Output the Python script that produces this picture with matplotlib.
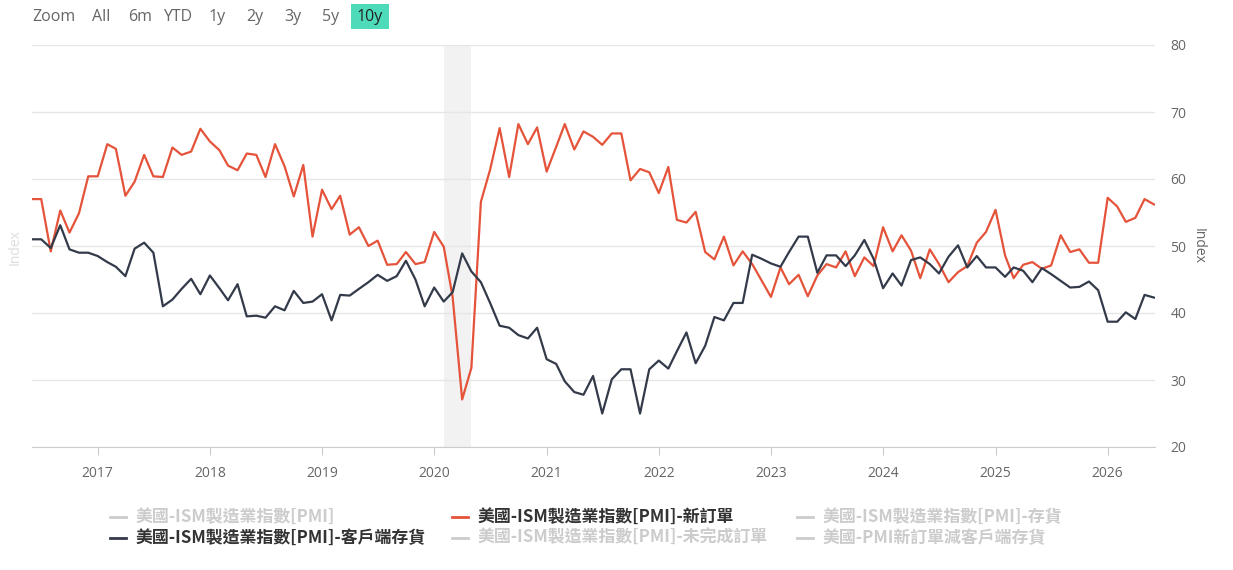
import pandas as pd
import matplotlib.pyplot as plt
import matplotlib.dates as mdates
from matplotlib.lines import Line2D

# ---- data (monthly, Jun 2016 - Jun 2026) ----
start_month = "2016-06-01"

new_orders = [
    57.0, 57.0, 49.2, 55.3, 52.0, 54.9, 60.4,
    60.4, 65.2, 64.5, 57.5, 59.6, 63.6, 60.4, 60.3, 64.7, 63.6, 64.1, 67.5,
    65.6, 64.3, 62.0, 61.3, 63.8, 63.6, 60.3, 65.2, 61.9, 57.4, 62.1, 51.4,
    58.4, 55.5, 57.5, 51.7, 52.8, 50.0, 50.8, 47.2, 47.3, 49.1, 47.3, 47.6,
    52.1, 49.9, 42.4, 27.1, 31.8, 56.6, 61.4, 67.6, 60.3, 68.2, 65.2, 67.7,
    61.1, 64.8, 68.2, 64.4, 67.1, 66.3, 65.1, 66.8, 66.8, 59.8, 61.5, 61.0,
    57.9, 61.8, 53.9, 53.5, 55.1, 49.1, 48.0, 51.4, 47.1, 49.2, 47.3, 44.9,
    42.4, 46.8, 44.3, 45.7, 42.5, 45.6, 47.3, 46.8, 49.2, 45.5, 48.3, 47.0,
    52.8, 49.2, 51.6, 49.3, 45.2, 49.5, 47.3, 44.6, 46.1, 47.0, 50.5, 52.1,
    55.4, 48.6, 45.2, 47.2, 47.6, 46.6, 47.1, 51.6, 49.1, 49.5, 47.5, 47.5,
    57.2, 55.9, 53.6, 54.2, 57.0, 56.2,
]

customer_inv = [
    51.0, 51.0, 49.7, 53.1, 49.5, 49.0, 49.0,
    48.5, 47.6, 46.9, 45.5, 49.6, 50.5, 49.0, 41.0, 42.0, 43.6, 45.1, 42.8,
    45.6, 43.7, 41.9, 44.3, 39.5, 39.6, 39.3, 41.0, 40.4, 43.3, 41.5, 41.7,
    42.8, 38.9, 42.7, 42.6, 43.6, 44.6, 45.7, 44.8, 45.5, 47.8, 45.0, 41.0,
    43.8, 41.7, 43.1, 48.9, 46.2, 44.6, 41.5, 38.1, 37.8, 36.7, 36.2, 37.8,
    33.1, 32.4, 29.8, 28.2, 27.8, 30.6, 25.0, 30.1, 31.6, 31.6, 25.0, 31.6,
    32.9, 31.7, 34.3, 37.1, 32.5, 35.1, 39.4, 38.9, 41.5, 41.5, 48.7, 48.1,
    47.4, 46.9, 49.1, 51.4, 51.4, 46.0, 48.6, 48.6, 47.0, 48.6, 50.9, 48.1,
    43.7, 45.9, 44.1, 47.9, 48.3, 47.3, 45.9, 48.4, 50.1, 46.8, 48.5, 46.8,
    46.8, 45.4, 46.8, 46.3, 44.6, 46.7, 45.8, 44.8, 43.8, 43.9, 44.7, 43.4,
    38.7, 38.7, 40.1, 39.1, 42.7, 42.3,
]

recession = ("2020-02-01", "2020-05-01")

legend_names = [
    "美國-ISM製造業指數[PMI]",
    "美國-ISM製造業指數[PMI]-新訂單",
    "美國-ISM製造業指數[PMI]-存貨",
    "美國-ISM製造業指數[PMI]-客戶端存貨",
    "美國-ISM製造業指數[PMI]-未完成訂單",
    "美國-PMI新訂單減客戶端存貨",
]
legend_visible = [False, True, False, True, False, False]

range_buttons = ["Zoom", "All", "6m", "YTD", "1y", "2y", "3y", "5y", "10y"]

dates = pd.date_range(start_month, periods=len(new_orders), freq="MS")

RED = "#e4533a"
DARK = "#333a4a"
GRAY_TXT = "#666666"

plt.rcParams["font.family"] = ["Open Sans", "Noto Sans CJK TC", "DejaVu Sans"]

W, H = 1233, 570
fig = plt.figure(figsize=(W / 100, H / 100), dpi=100)


def fx(px):
    return px / W


def fy(py):
    return 1 - py / H


ax = fig.add_axes([fx(32), fy(447), fx(1155) - fx(32), fy(45) - fy(447)])

ax.axvspan(pd.Timestamp(recession[0]), pd.Timestamp(recession[1]),
           color="#f2f2f2", zorder=0.2, lw=0)
ax.plot(dates, new_orders, color=RED, lw=1.6, zorder=3)
ax.plot(dates, customer_inv, color=DARK, lw=1.6, zorder=3)

ax.set_xlim(dates[0], dates[-1] + pd.Timedelta(days=3))
ax.set_ylim(20, 80)
ax.set_yticks(range(20, 81, 10))
ax.yaxis.tick_right()
ax.yaxis.grid(True, color="#e6e6e6", lw=1)
ax.set_axisbelow(True)
ax.tick_params(axis="y", length=0, labelsize=10, labelcolor=GRAY_TXT, pad=11)

ax.xaxis.set_major_locator(mdates.YearLocator())
ax.xaxis.set_major_formatter(mdates.DateFormatter("%Y"))
ax.tick_params(axis="x", length=6, color="#cccccc", labelsize=10,
               labelcolor=GRAY_TXT, pad=8)

for side in ["top", "left", "right"]:
    ax.spines[side].set_visible(False)
ax.spines["bottom"].set_color("#cccccc")

ax.yaxis.set_label_position("right")
ax.set_ylabel("Index", rotation=270, color=GRAY_TXT, fontsize=10, labelpad=14)
fig.text(fx(15), fy(247), "Index", rotation=90, color="#dddddd",
         fontsize=10, ha="center", va="center")

# ---- range selector ----
btn_x = [54, 101, 140, 178, 217, 255, 293, 331, 370]
for label, bx in zip(range_buttons, btn_x):
    if label == "10y":
        fig.patches.append(plt.Rectangle((fx(351), fy(29)), fx(389) - fx(351),
                                         fy(4) - fy(29), transform=fig.transFigure,
                                         facecolor="#4ddbb9", edgecolor="none"))
        color = "#222222"
    else:
        color = GRAY_TXT
    fig.text(fx(bx), fy(17), label, ha="center", va="center",
             fontsize=11.5, color=color)

# ---- legend ----
col_x = [110, 452, 797]
row_y = [517, 538]
for i, (name, vis) in enumerate(zip(legend_names, legend_visible)):
    cx = col_x[i % 3]
    cy = row_y[i // 3]
    if vis:
        lc = RED if i == 1 else DARK
        tc = "#333333"
    else:
        lc = "#cccccc"
        tc = "#cccccc"
    fig.add_artist(Line2D([fx(cx), fx(cx + 16)], [fy(cy), fy(cy)],
                          transform=fig.transFigure, color=lc, lw=2))
    fig.text(fx(cx + 26), fy(cy), name, ha="left", va="center",
             fontsize=12.2, color=tc, fontweight="bold",
             family=["Noto Sans CJK TC", "DejaVu Sans"])

fig.savefig("out.png", dpi=100)
